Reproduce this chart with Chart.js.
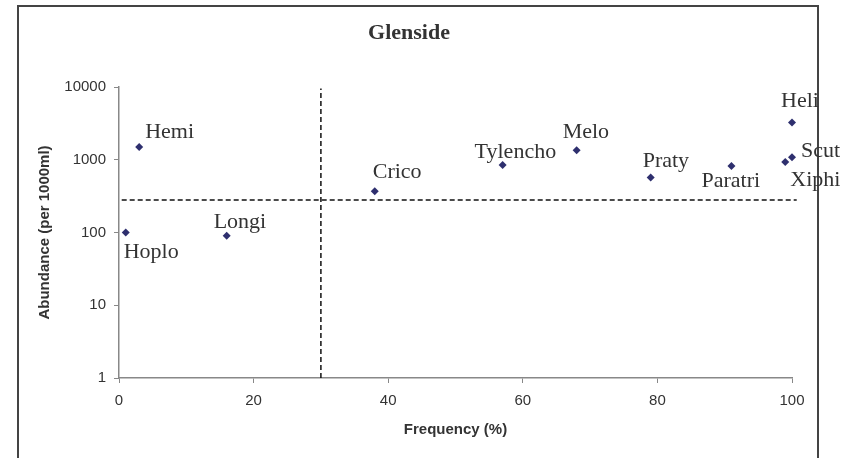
<!DOCTYPE html>
<html>
<head>
<meta charset="utf-8">
<script src="https://cdn.jsdelivr.net/npm/chart.js@4"></script>
<style>
  html, body { margin: 0; padding: 0; background: #fff; overflow: hidden; }
  #wrap { position: relative; width: 857px; height: 458px; }
  #frame { position: absolute; left: 17px; top: 5px; width: 798px; height: 500px; border: 2px solid #444; }
  canvas { position: absolute; left: 0; top: 0; }
</style>
</head>
<body>
<div id="wrap">
  <div id="frame"></div>
  <canvas id="chart" width="857" height="458"></canvas>
</div>
<script>
// values
const species   = ['Hoplo', 'Hemi', 'Longi', 'Crico', 'Tylencho', 'Melo', 'Praty', 'Paratri', 'Heli', 'Scut', 'Xiphi']
const frequency = [1, 3, 16, 38, 57, 68, 79, 91, 100, 100, 99]
const abundance = [100, 1500, 90, 370, 850, 1350, 570, 820, 3250, 1080, 930]
const yTicks = [1, 10, 100, 1000, 10000]
const xTicks = [0, 20, 40, 60, 80, 100]
const freqCut = 30     // vertical dashed line
const abundCut = 280   // horizontal dashed line

// where each name sits next to its point (px)
const labelOffsets = {
  Hoplo: [-2, 20], Hemi: [6, -15], Longi: [-13, -14], Crico: [-2, -19],
  Tylencho: [-28, -13], Melo: [-14, -18], Praty: [-8, -16], Paratri: [-30, 15],
  Heli: [-11, -21], Scut: [9, -6], Xiphi: [5, 18]
}

let points = species.map(function (s, i) {
  return { x: frequency[i], y: abundance[i], name: s }
})

const pointLabels = {
  id: 'pointLabels',
  afterDatasetsDraw(chart) {
    let ctx = chart.ctx
    let meta = chart.getDatasetMeta(0)
    ctx.save()
    ctx.font = '22px "Liberation Serif", "Times New Roman", serif'
    ctx.fillStyle = '#333'
    ctx.textAlign = 'left'
    ctx.textBaseline = 'middle'
    meta.data.forEach(function (el, i) {
      let name = points[i].name
      let off = labelOffsets[name] || [0, 0]
      ctx.fillText(name, el.x + off[0], el.y + off[1])
    })
    // chart title
    ctx.font = 'bold 22px "Liberation Serif", "Times New Roman", serif'
    ctx.textAlign = 'center'
    ctx.fillText('Glenside', 409, 33)
    ctx.restore()
  }
}

const tickFont = { family: '"Liberation Sans", Arial, sans-serif', size: 15 }
const titleFont = { family: '"Liberation Sans", Arial, sans-serif', size: 15, weight: 'bold' }

new Chart(document.getElementById('chart'), {
  type: 'scatter',
  data: {
    datasets: [
      {
        data: points,
        pointStyle: 'rectRot',
        pointRadius: 4,
        backgroundColor: '#2e2f6e',
        borderColor: '#2e2f6e',
        borderWidth: 0,
        clip: false,
        order: 0
      },
      {
        data: [{ x: freqCut, y: 1 }, { x: freqCut, y: 9500 }],
        showLine: true,
        pointRadius: 0,
        borderColor: '#111',
        borderWidth: 1.5,
        borderDash: [5, 3],
        clip: false,
        order: 1
      },
      {
        data: [{ x: 0.4, y: abundCut }, { x: 100.7, y: abundCut }],
        showLine: true,
        pointRadius: 0,
        borderColor: '#111',
        borderWidth: 1.5,
        borderDash: [5, 3],
        clip: false,
        order: 1
      }
    ]
  },
  options: {
    responsive: false,
    animation: false,
    layout: { padding: { top: 87, right: 65, left: 0, bottom: 0 } },
    plugins: { legend: { display: false }, tooltip: { enabled: false }, title: { display: false } },
    scales: {
      x: {
        type: 'linear',
        min: 0, max: 100,
        afterBuildTicks: function (s) { s.ticks = xTicks.map(v => ({ value: v })) },
        afterFit: function (s) { s.height = 80 },
        grid: { drawOnChartArea: false, drawTicks: true, tickLength: 5, color: '#888' },
        border: { display: true, color: '#888', width: 1.5 },
        ticks: { font: tickFont, color: '#333', padding: 9, maxRotation: 0 },
        title: { display: true, text: 'Frequency (%)', font: titleFont, color: '#333', padding: { top: 19, bottom: 19 } }
      },
      y: {
        type: 'logarithmic',
        min: 1, max: 10000,
        afterBuildTicks: function (s) { s.ticks = yTicks.map(v => ({ value: v })) },
        afterFit: function (s) { s.width = 119 },
        grid: { drawOnChartArea: false, drawTicks: true, tickLength: 5, color: '#888' },
        border: { display: true, color: '#888', width: 1.5 },
        ticks: { font: tickFont, color: '#333', padding: 8, callback: v => String(v) },
        title: { display: true, text: 'Abundance (per 1000ml)', font: titleFont, color: '#333', padding: { top: 36, bottom: 36 } }
      }
    }
  },
  plugins: [pointLabels]
})
</script>
</body>
</html>
